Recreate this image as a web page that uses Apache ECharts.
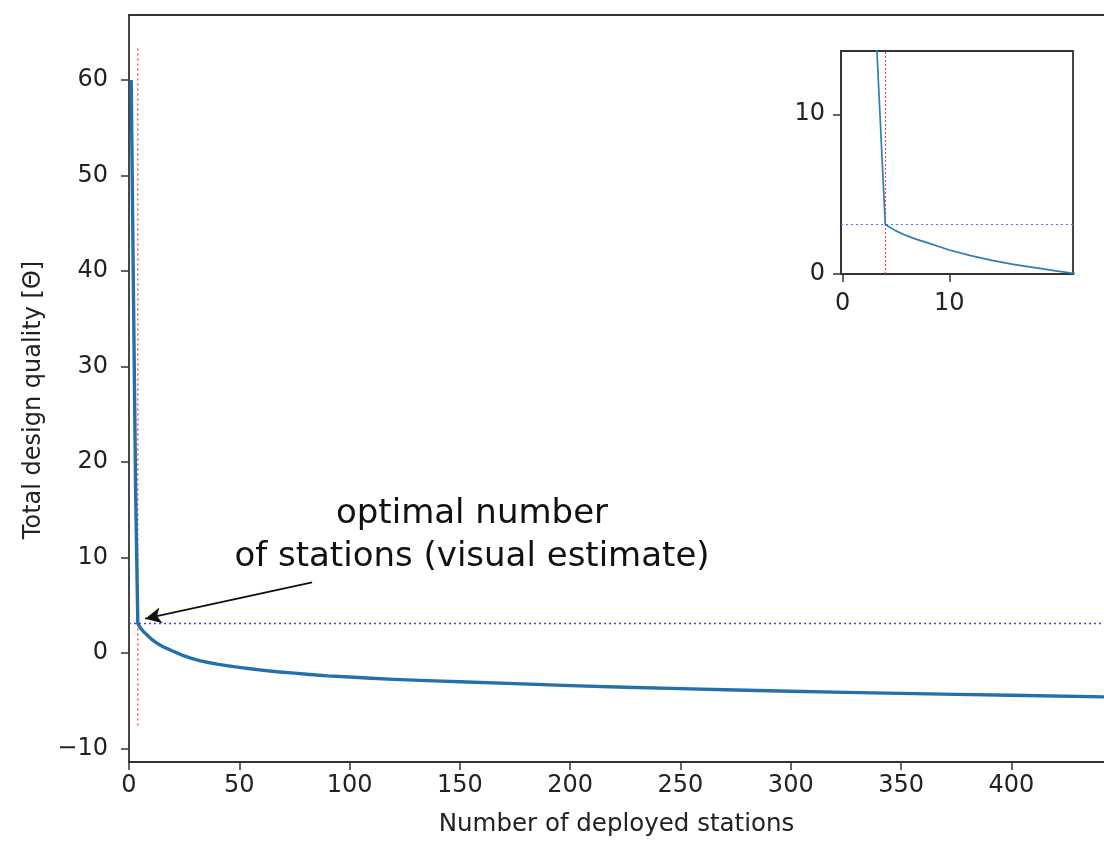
<!DOCTYPE html>
<html>
<head>
<meta charset="utf-8">
<script src="https://cdn.jsdelivr.net/npm/echarts@6/dist/echarts.min.js"></script>
<style>html,body{margin:0;padding:0;background:#fff;}#c{width:1104px;height:843px;}</style>
</head>
<body>
<div id="c"></div>
<script>
// ---- data ----
const stationsX = [1, 2, 3, 4, 5, 6, 7, 8, 9, 10, 12, 14, 16, 18, 20, 22, 25, 28, 32, 36, 40, 45, 50, 55, 60, 67, 75, 82, 90, 100, 110, 120, 135, 150, 175, 200, 225, 250, 275, 300, 325, 350, 375, 400, 442];
const qualityY  = [60, 38, 17, 3.1, 2.7, 2.4, 2.15, 1.95, 1.72, 1.5, 1.15, 0.85, 0.6, 0.4, 0.2, 0, -0.3, -0.52, -0.78, -0.98, -1.15, -1.33, -1.5, -1.64, -1.78, -1.95, -2.1, -2.24, -2.38, -2.5, -2.63, -2.75, -2.88, -3.0, -3.2, -3.4, -3.57, -3.72, -3.86, -4.0, -4.11, -4.22, -4.32, -4.42, -4.58];
const optimumX = 4;
const optimumY = 3.1;
const redLineSpan = [-7.9, 63.3];
const mainXTicks = [0, 50, 100, 150, 200, 250, 300, 350, 400];
const mainYTicks = [-10, 0, 10, 20, 30, 40, 50, 60];
const insetXTicks = [0, 10];
const insetYTicks = [0, 10];
const arrowFrom = [83, 7.4];
const arrowTo = [7.4, 3.6];
const annotationText = 'optimal number\nof stations (visual estimate)';
const xName = 'Number of deployed stations';
const yName = 'Total design quality [Θ]';

const curve = stationsX.map((x, i) => [x, qualityY[i]]);
const FONT = 'DejaVu Sans';
const AX = '#333333';
const minusFmt = v => String(v).replace('-', '\u2212');

const chart = echarts.init(document.getElementById('c'), null, {renderer: 'canvas'});
const axisLineStyle = {color: AX, width: 1.8};
const labelStyle = {color: '#222', fontSize: 24, fontFamily: FONT, formatter: minusFmt};

chart.setOption({
  backgroundColor: '#ffffff',
  animation: false,
  grid: [
    {left: 129, top: 15, right: 0, bottom: 81},
    {left: 841, top: 51, width: 232, height: 223, show: true, borderColor: AX, borderWidth: 1.8, backgroundColor: '#ffffff', z: 10}
  ],
  xAxis: [
    {gridIndex: 0, type: 'value', min: 0, max: 442,
     name: xName, nameLocation: 'middle', nameGap: 50,
     nameTextStyle: {color: '#222', fontSize: 24.5, fontFamily: FONT},
     axisLine: {show: true, onZero: false, lineStyle: axisLineStyle},
     axisTick: {show: true, length: 8, lineStyle: {color: AX, width: 1.5}, customValues: mainXTicks},
     axisLabel: Object.assign({margin: 12, customValues: mainXTicks}, labelStyle),
     splitLine: {show: false}},
    {gridIndex: 0, type: 'value', position: 'top', min: 0, max: 442,
     axisLine: {show: true, onZero: false, lineStyle: axisLineStyle},
     axisTick: {show: false}, axisLabel: {show: false}, splitLine: {show: false}},
    {gridIndex: 1, type: 'value', min: -0.15, max: 21.6, z: 11,
     axisLine: {show: true, onZero: false, lineStyle: axisLineStyle},
     axisTick: {show: true, length: 8, lineStyle: {color: AX, width: 1.5}, customValues: insetXTicks},
     axisLabel: Object.assign({margin: 18, customValues: insetXTicks}, labelStyle),
     splitLine: {show: false}}
  ],
  yAxis: [
    {gridIndex: 0, type: 'value', min: -11.4, max: 66.8,
     axisLine: {show: true, onZero: false, lineStyle: axisLineStyle},
     axisTick: {show: true, length: 8, lineStyle: {color: AX, width: 1.5}, customValues: mainYTicks},
     axisLabel: Object.assign({margin: 21, customValues: mainYTicks}, labelStyle),
     splitLine: {show: false}},
    {gridIndex: 1, type: 'value', min: 0, max: 13.96, z: 11,
     axisLine: {show: true, onZero: false, lineStyle: axisLineStyle},
     axisTick: {show: true, length: 8, lineStyle: {color: AX, width: 1.5}, customValues: insetYTicks},
     axisLabel: Object.assign({margin: 16, customValues: insetYTicks}, labelStyle),
     splitLine: {show: false}}
  ],
  series: [
    {type: 'line', xAxisIndex: 0, yAxisIndex: 0, data: curve, showSymbol: false, symbol: 'none',
     lineStyle: {color: '#2370ab', width: 3.4, join: 'round'}, z: 3, clip: true,
     markLine: {silent: true, symbol: 'none', label: {show: false},
       lineStyle: {color: '#4040f0', type: [2, 3], width: 1.3},
       data: [{yAxis: optimumY}]}},
    {type: 'line', xAxisIndex: 0, yAxisIndex: 0, data: [[optimumX, redLineSpan[1]], [optimumX, redLineSpan[0]]],
     showSymbol: false, symbol: 'none', lineStyle: {color: '#ff3a3a', type: [2, 3], width: 1.3}, z: 2},
    {type: 'line', xAxisIndex: 0, yAxisIndex: 0, data: [], symbol: 'none',
     markLine: {silent: true, symbol: ['none', 'arrow'], symbolSize: [12, 16], label: {show: false},
       lineStyle: {color: '#111', type: 'solid', width: 1.8},
       data: [[{coord: arrowFrom}, {coord: arrowTo}]]}},
    {type: 'line', xAxisIndex: 2, yAxisIndex: 1, data: curve, showSymbol: false, symbol: 'none',
     lineStyle: {color: '#2f7db5', width: 1.7, join: 'round'}, z: 13, clip: true,
     markLine: {silent: true, symbol: 'none', label: {show: false}, z: 12,
       data: [
         {yAxis: optimumY, lineStyle: {color: '#6a6af0', type: [2, 3], width: 1.2}},
         {xAxis: optimumX, lineStyle: {color: '#ff3a3a', type: [2, 2], width: 1.1}}
       ]}}
  ],
  graphic: [
    {type: 'text', x: 472, y: 536, z: 20,
     style: {text: annotationText, fill: '#111', font: '34px "DejaVu Sans"', textAlign: 'center', textVerticalAlign: 'middle', lineHeight: 43}},
    {type: 'text', x: 34, y: 400, rotation: Math.PI / 2, z: 20,
     style: {text: yName, fill: '#222', font: '24px "DejaVu Sans"', textAlign: 'center', textVerticalAlign: 'middle'}}
  ]
});
</script>
</body>
</html>
